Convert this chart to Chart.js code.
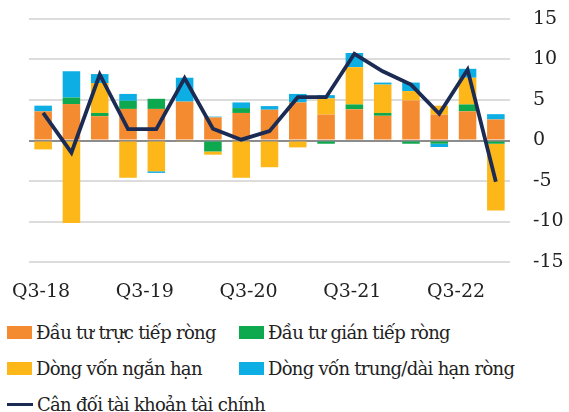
<!DOCTYPE html>
<html>
<head>
<meta charset="utf-8">
<script src="https://cdn.jsdelivr.net/npm/chart.js@4"></script>
<style>
  body { margin: 0; background: #fff; font-family: 'DejaVu Serif', serif; }
  .wrap { width: 569px; height: 412px; position: relative; }
  .chart-box { width: 569px; height: 305px; position: relative; }
  .legend { position: absolute; left: 0; top: 316px; width: 569px; font-size: 18px; letter-spacing: -0.7px; color: #222; }
  .legend .row { position: relative; height: 36px; }
  .legend .item { position: absolute; top: 0; display: flex; align-items: center; height: 32px; white-space: nowrap; }
  .legend .box { width: 25px; height: 13px; margin-right: 4px; }
  .legend .line { width: 26px; height: 3px; margin-right: 4px; }
</style>
</head>
<body>
<div class="wrap">
  <div class="chart-box"><canvas id="chart"></canvas></div>
  <div class="legend" id="legend"></div>
</div>
<script>
// kwartalen Q3-18 t/m Q3-22
const quarters = ['Q3-18', 'Q4-18', 'Q1-19', 'Q2-19', 'Q3-19', 'Q4-19', 'Q1-20', 'Q2-20', 'Q3-20',
    'Q4-20', 'Q1-21', 'Q2-21', 'Q3-21', 'Q4-21', 'Q1-22', 'Q2-22', 'Q3-22'];
const tickLabels = ['Q3-18', 'Q3-19', 'Q3-20', 'Q3-21', 'Q3-22'];
const yTicks = [-15, -10, -5, 0, 5, 10, 15];

const fdi = [3.6, 4.5, 3.0, 3.9, 3.9, 4.8, 2.85, 3.4, 3.8, 4.7, 3.2, 3.85, 3.05, 4.95, 3.2, 3.6, 2.6];
const portfolio = [0, 0.8, 0.4, 1.0, 1.25, 0, -1.35, 0.6, 0, 0, -0.4, 0.6, 0.35, -0.4, -0.4, 0.85, -0.4];
const shortTerm = [-1.1, -10.2, 3.7, -4.6, -3.8, -0.15, -0.4, -4.6, -3.3, -0.85, 2.0, 4.6, 3.5, 1.15, 1.1, 3.3, -8.25];
const longTerm = [0.7, 3.25, 1.1, 0.85, -0.2, 2.95, 0.1, 0.7, 0.45, 1.05, 0.4, 1.75, 0.25, 1.05, -0.4, 1.1, 0.65];
const balance = [3.4, -1.5, 8.15, 1.4, 1.4, 7.7, 1.45, 0.1, 1.15, 5.35, 5.35, 10.7, 8.55, 6.9, 3.3, 8.75, -5.1];

const names = ['Đầu tư trực tiếp ròng', 'Đầu tư gián tiếp ròng', 'Dòng vốn ngắn hạn',
    'Dòng vốn trung/dài hạn ròng', 'Cân đối tài khoản tài chính'];
const colors = ['#F58B30', '#0EA84F', '#FDB718', '#0DAEE3', '#1B2B54'];

const font = { family: "'DejaVu Serif', serif", size: 19 };

function barSet(i, data) {
    return {
        type: 'bar',
        label: names[i],
        data: data,
        backgroundColor: colors[i],
        borderWidth: 0,
        barPercentage: 0.62,
        categoryPercentage: 1,
        order: 1
    };
}

const chart = new Chart(document.getElementById('chart'), {
    data: {
        labels: quarters,
        datasets: [
            barSet(0, fdi),
            barSet(1, portfolio),
            barSet(2, shortTerm),
            barSet(3, longTerm),
            {
                type: 'line',
                label: names[4],
                data: balance,
                borderColor: colors[4],
                borderWidth: 3.8,
                pointRadius: 0,
                tension: 0,
                stack: 'line',
                order: 0
            }
        ]
    },
    options: {
        responsive: true,
        maintainAspectRatio: false,
        animation: false,
        layout: { padding: { left: 29, right: 0, top: 19, bottom: 0 } },
        plugins: { legend: { display: false }, tooltip: { enabled: false } },
        scales: {
            x: {
                stacked: true,
                display: false,
                offset: true
            },
            x2: {
                type: 'linear',
                position: 'bottom',
                min: -0.116,
                max: 4.52,
                afterBuildTicks: axis => { axis.ticks = tickLabels.map((t, i) => ({ value: i })); },
                afterFit: axis => { axis.height = 43; },
                // onzichtbare tick-streepjes als afstand tot de labels
                grid: { display: true, drawOnChartArea: false, drawTicks: true, tickLength: 16, tickColor: 'rgba(0,0,0,0)' },
                border: { display: false },
                ticks: {
                    font: font,
                    color: '#222',
                    padding: 3,
                    maxRotation: 0,
                    autoSkip: false,
                    callback: (v, i) => tickLabels[i]
                }
            },
            y: {
                stacked: true,
                position: 'right',
                min: -15,
                max: 15,
                afterBuildTicks: axis => { axis.ticks = yTicks.map(v => ({ value: v })); },
                afterFit: axis => { axis.width = 59; },
                border: { display: false },
                grid: {
                    drawTicks: true,
                    tickLength: 20,
                    tickColor: 'rgba(0,0,0,0)',
                    lineWidth: 2,
                    color: ctx => ctx.tick && ctx.tick.value === 0 ? '#8c8c8c' : '#dcdcdc'
                },
                ticks: { font: font, color: '#222', padding: 3 }
            }
        }
    }
});

// legenda in HTML, vaste kolommen zoals in het origineel
const legendEl = document.getElementById('legend');
const rows = [[0, 1], [2, 3], [4]];
const lefts = [7, 239];
rows.forEach(row => {
    const r = document.createElement('div');
    r.className = 'row';
    row.forEach((idx, col) => {
        const item = document.createElement('div');
        item.className = 'item';
        item.style.left = lefts[col] + 'px';
        const mark = document.createElement('span');
        mark.className = idx === 4 ? 'line' : 'box';
        mark.style.background = colors[idx];
        const txt = document.createElement('span');
        txt.textContent = names[idx];
        item.appendChild(mark);
        item.appendChild(txt);
        r.appendChild(item);
    });
    legendEl.appendChild(r);
});
</script>
</body>
</html>
